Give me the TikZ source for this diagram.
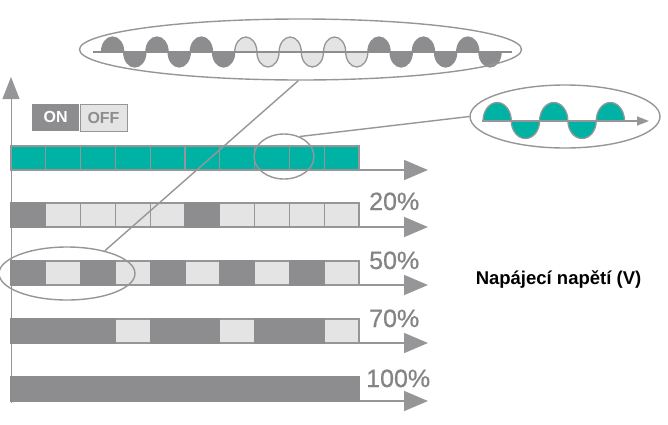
\documentclass[tikz,border=0pt]{standalone}
\usepackage{fontspec}
\setmainfont{Liberation Sans}
\newfontfamily\pctfont[BoldFont={Liberation Sans},BoldFeatures={FakeBold=0.7}]{Liberation Sans}
\usetikzlibrary{shapes.geometric,arrows.meta}
\definecolor{dgray}{RGB}{141,141,143}
\definecolor{lgray}{RGB}{228,228,228}
\definecolor{bgray}{RGB}{150,150,152}
\definecolor{tgray}{RGB}{132,132,134}
\definecolor{tealc}{RGB}{0,178,164}
\tikzset{
  cellbox/.style={draw=bgray,line width=1.3pt},
  harrow/.style={draw=bgray,line width=1.6pt,-{Triangle[length=24pt,width=20pt]}},
  varrow/.style={draw=bgray,line width=1pt,-{Triangle[length=22pt,width=17pt]}},
  lens/.style={ellipse,draw=bgray,line width=1.4pt,inner sep=0pt},
  pct/.style={font=\pctfont\bfseries\fontsize{25}{25}\selectfont,text=tgray,anchor=base west,inner sep=0pt},
  link/.style={draw=bgray,line width=1.4pt},
}
\begin{document}
\begin{tikzpicture}[x=1pt,y=-1pt]
\useasboundingbox (0,0) rectangle (668,424);
% vertical axis
\coordinate (vbot) at (11,403);
\coordinate (vtop) at (11,77);
\draw[varrow] (vbot) -- (vtop);
% legend
\node[fill=dgray,minimum width=47pt,minimum height=27pt,inner sep=0pt,anchor=north west,
  text=white,font=\fontsize{16}{16}\selectfont\bfseries] (on) at (32,103.5) {ON};
\node[fill=lgray,draw=bgray,line width=1pt,minimum width=47pt,minimum height=27pt,inner sep=0pt,anchor=north west,
  text=dgray,font=\fontsize{16}{16}\selectfont\bfseries] (off) at (79.5,103.5) {OFF};
% bars
\foreach \y/\cols [count=\r] in {
  146/{tealc,tealc,tealc,tealc,tealc,tealc,tealc,tealc,tealc,tealc},
  203/{dgray,lgray,lgray,lgray,lgray,dgray,lgray,lgray,lgray,lgray},
  261/{dgray,lgray,dgray,lgray,dgray,lgray,dgray,lgray,dgray,lgray},
  319/{dgray,dgray,dgray,lgray,dgray,dgray,lgray,dgray,dgray,lgray},
  377/{dgray,dgray,dgray,dgray,dgray,dgray,dgray,dgray,dgray,dgray}} {
  \foreach \c [count=\k from 0] in \cols {
    \pgfmathsetmacro\xa{11+34.8*\k}
    \pgfmathsetmacro\xb{11+34.8*(\k+1)}
    \filldraw[cellbox,fill=\c] (\xa,\y) rectangle (\xb,\y+24);
  }
  \coordinate (e\r) at (359,\y+24);
  \coordinate (t\r) at (428,\y+24);
  \draw[harrow] (e\r) -- (t\r);
}
% dark runs without visible borders between adjacent dark cells
\foreach \y/\a/\b in {203/11/45.8, 203/185/219.8, 261/11/45.8, 261/80.6/115.4, 261/150.2/185, 261/219.8/254.6, 261/289.4/324.2,
  319/11/115.4, 319/150.2/219.8, 319/254.6/324.2, 377/11/359} {
  \filldraw[draw=dgray,line width=1.3pt,fill=dgray] (\a,\y) rectangle (\b,\y+24);
}
% percentage labels
\node[pct] (p20) at (369,210) {20\%};
\node[pct] (p50) at (369,269) {50\%};
\node[pct] (p70) at (369,327) {70\%};
\node[pct] (p100) at (366,387) {100\%};
% side text
\node[font=\fontsize{18.5}{18.5}\selectfont\bfseries,inner sep=0pt] (volt) at (558.5,280) {Napájecí napětí (V)};
% top magnified wave
\foreach \i/\c/\o in {0/dgray/dgray,1/dgray/dgray,2/dgray/dgray,3/lgray/bgray,4/lgray/bgray,5/lgray/bgray,6/dgray/dgray,7/dgray/dgray,8/dgray/dgray} {
  \pgfmathsetmacro\xa{101.5+44.4*\i}
  \filldraw[fill=\c,draw=\o,line width=1.3pt] (\xa,52) arc[start angle=180,end angle=0,x radius=11.1pt,y radius=15pt] -- cycle;
  \filldraw[fill=\c,draw=\o,line width=1.3pt] (\xa+22.2,52) arc[start angle=180,end angle=360,x radius=11.1pt,y radius=15pt] -- cycle;
}
\coordinate (wl) at (93,52);
\coordinate (wr) at (512,52);
\draw[draw=dgray,line width=1.6pt] (wl) -- (wr);
\node[lens,minimum width=442pt,minimum height=61pt] (big) at (300.5,49.5) {};
% right magnified wave
\foreach \i in {0,2,4} {
  \pgfmathsetmacro\xa{483+28.3*\i}
  \filldraw[fill=tealc,draw=bgray,line width=1.3pt] (\xa,121) arc[start angle=180,end angle=0,x radius=14.15pt,y radius=18.5pt] -- cycle;
}
\foreach \i in {1,3} {
  \pgfmathsetmacro\xa{483+28.3*\i}
  \filldraw[fill=tealc,draw=bgray,line width=1.3pt] (\xa,121) arc[start angle=180,end angle=360,x radius=14.15pt,y radius=17.5pt] -- cycle;
}
\coordinate (rl) at (482,121);
\coordinate (rr) at (649,121);
\draw[draw=bgray,line width=1.6pt,-{Triangle[length=12pt,width=9pt]}] (rl) -- (rr);
\node[lens,minimum width=190pt,minimum height=63pt] (right) at (565,116.5) {};
% small lenses
\node[lens,minimum width=60pt,minimum height=45pt] (tlens) at (284,156.5) {};
\node[lens,minimum width=136pt,minimum height=53pt] (glens) at (67,273.5) {};
% links
\draw[link] (big.266) -- (glens.31);
\draw[link] (tlens.52) -- (right.west);
\end{tikzpicture}
\end{document}
